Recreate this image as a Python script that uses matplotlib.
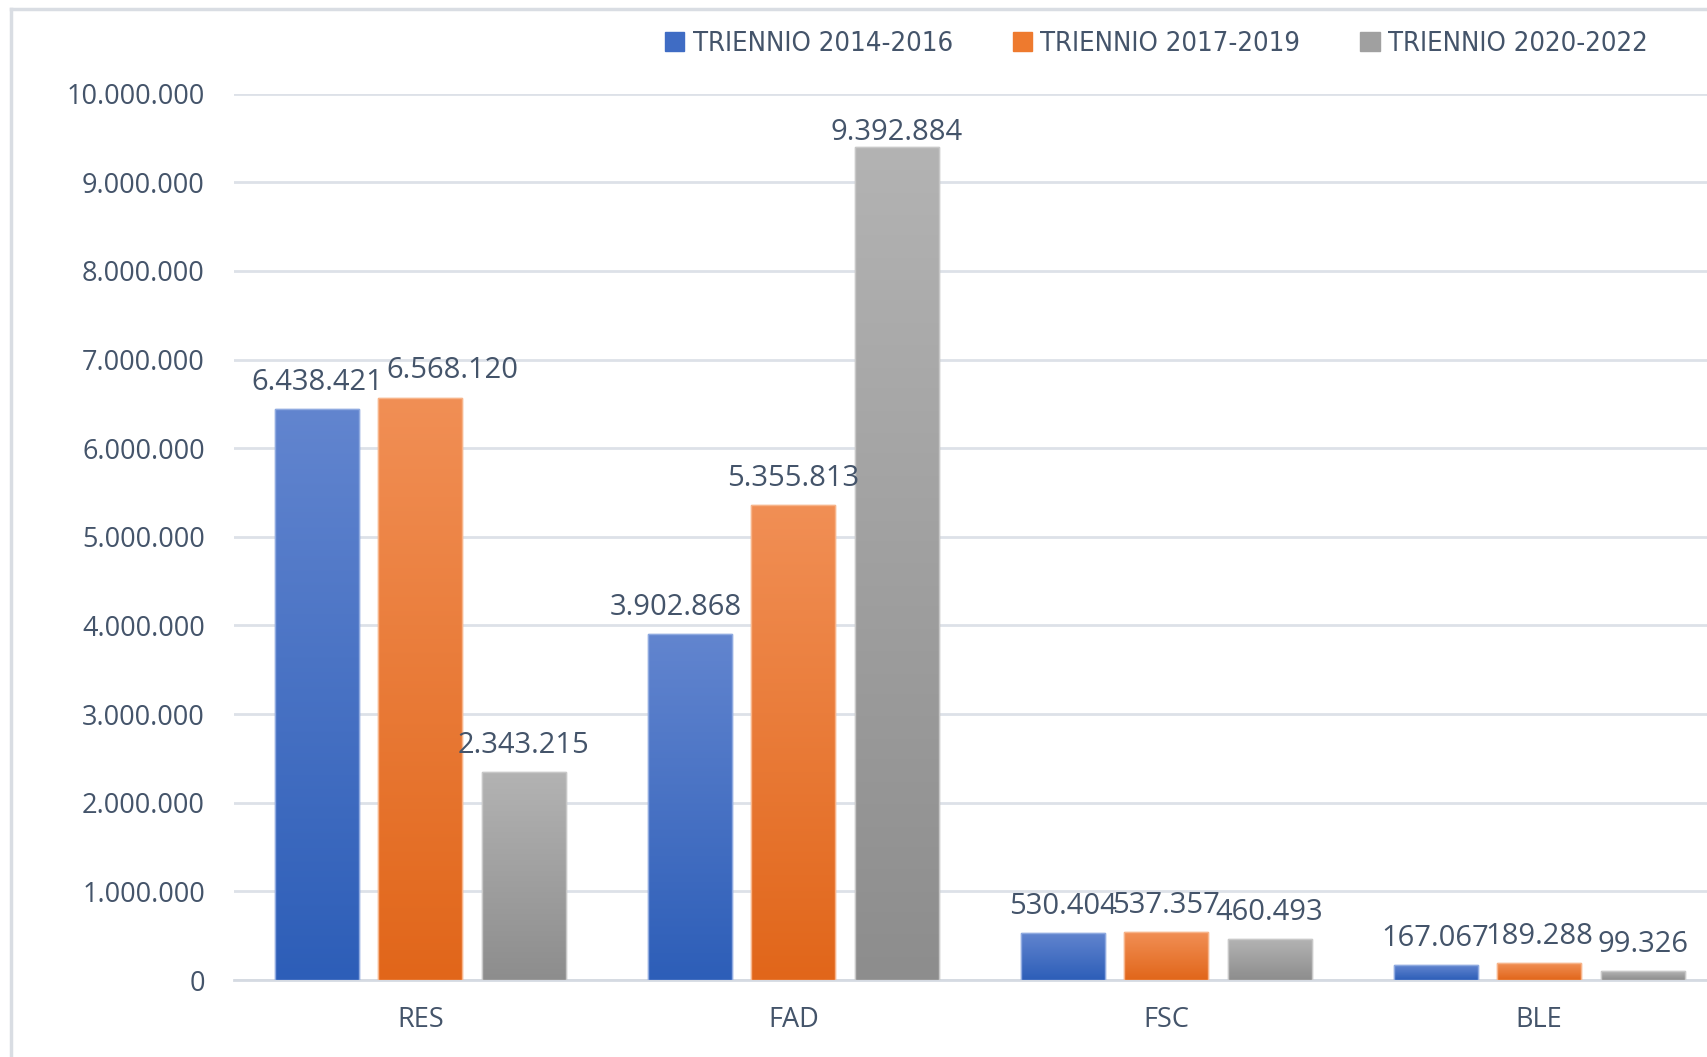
import numpy as np
import matplotlib
matplotlib.use("Agg")
import matplotlib.pyplot as plt
from matplotlib.colors import LinearSegmentedColormap
from matplotlib.patches import Rectangle

# Data
categories = ["RES", "FAD", "FSC", "BLE"]
series_names = ["TRIENNIO 2014-2016", "TRIENNIO 2017-2019", "TRIENNIO 2020-2022"]
val_2014 = [6438421, 3902868, 530404, 167067]
val_2017 = [6568120, 5355813, 537357, 189288]
val_2020 = [2343215, 9392884, 460493, 99326]
yticks = [0, 1000000, 2000000, 3000000, 4000000, 5000000,
          6000000, 7000000, 8000000, 9000000, 10000000]

# gradient colours (top, bottom) and legend colour
grad = [("#6285CF", "#2D5EB8"), ("#F18F55", "#E1661A"), ("#B3B3B3", "#8D8D8D")]
solid = ["#3F6CC4", "#EE7A2E", "#A0A0A0"]
edges = ["#8FAAE0", "#F7B48A", "#C8C8C8"]
text_col = "#44546A"
grid_col = "#DDE1E8"

# label nudges (points) where Excel moved a label aside: (series, category) -> (dx, dy)
label_nudge = {(1, 0): (23, 0), (0, 1): (-10, 0), (2, 1): (0, -9)}


def it_fmt(v):
    return f"{int(v):,}".replace(",", ".")


fig = plt.figure(figsize=(17.08, 10.57), dpi=100)
ax = fig.add_axes([0.137, 0.0728, 0.863, 0.8386])

# outer chart frame (cropped at right and bottom)
fig.add_artist(plt.Line2D([0.0065, 0.0065], [0.0, 0.9915], transform=fig.transFigure,
                          color="#D9DDE3", lw=2.5))
fig.add_artist(plt.Line2D([0.0065, 1.0], [0.9915, 0.9915], transform=fig.transFigure,
                          color="#D9DDE3", lw=2.5))

x = np.arange(len(categories))
width = 0.225
step = 0.2775
grad_img = np.linspace(1, 0, 256).reshape(-1, 1)

for i, vals in enumerate([val_2014, val_2017, val_2020]):
    pos = x + (i - 1) * step
    bars = ax.bar(pos, vals, width, color=solid[i], edgecolor=edges[i], linewidth=1.0,
                  label=series_names[i], zorder=3)
    cmap = LinearSegmentedColormap.from_list("g%d" % i, [grad[i][1], grad[i][0]])
    for b in bars:
        bx, bw, bh = b.get_x(), b.get_width(), b.get_height()
        im = ax.imshow(grad_img, cmap=cmap, aspect="auto", vmin=0, vmax=1,
                       extent=[bx, bx + bw, 0, bh], zorder=3.5)
        im.set_clip_path(b)
        ax.add_patch(Rectangle((bx, 0), bw, bh, fill=False, edgecolor=edges[i],
                               linewidth=1.0, zorder=4))
    for j, (p, v) in enumerate(zip(pos, vals)):
        dx, dy = label_nudge.get((i, j), (0, 0))
        ax.annotate(it_fmt(v), (p, v), xytext=(dx, 9 + dy),
                    textcoords="offset points",
                    ha="center", va="bottom", fontsize=21, color=text_col,
                    family="Open Sans", clip_on=False, zorder=5)

ax.set_xlim(-0.5, 3.453)
ax.set_ylim(0, 10000000)
ax.set_yticks(yticks)
ax.set_yticklabels([it_fmt(t) for t in yticks], fontsize=19.5, color=text_col,
                   family="Open Sans")
ax.set_xticks(x)
ax.set_xticklabels(categories, fontsize=19.5, color=text_col, family="Open Sans")
ax.tick_params(axis="both", length=0)
ax.tick_params(axis="y", pad=21)
ax.tick_params(axis="x", pad=19)
ax.grid(axis="y", color=grid_col, linewidth=2, zorder=0)
ax.set_axisbelow(True)
for s in ["top", "right", "left"]:
    ax.spines[s].set_visible(False)
ax.spines["bottom"].set_color("#D5DAE2")
ax.spines["bottom"].set_linewidth(2)

handles = [Rectangle((0, 0), 1, 1, color=c) for c in solid]
leg = fig.legend(handles, series_names, loc="center", bbox_to_anchor=(0.677, 0.9585),
                 ncol=3, frameon=False, handlelength=0.7, handleheight=0.7,
                 handletextpad=0.3, columnspacing=2.2,
                 prop={"family": "DejaVu Sans", "stretch": "condensed", "size": 19.7})
for t in leg.get_texts():
    t.set_color(text_col)

fig.savefig("out.png", dpi=100, facecolor="white")
